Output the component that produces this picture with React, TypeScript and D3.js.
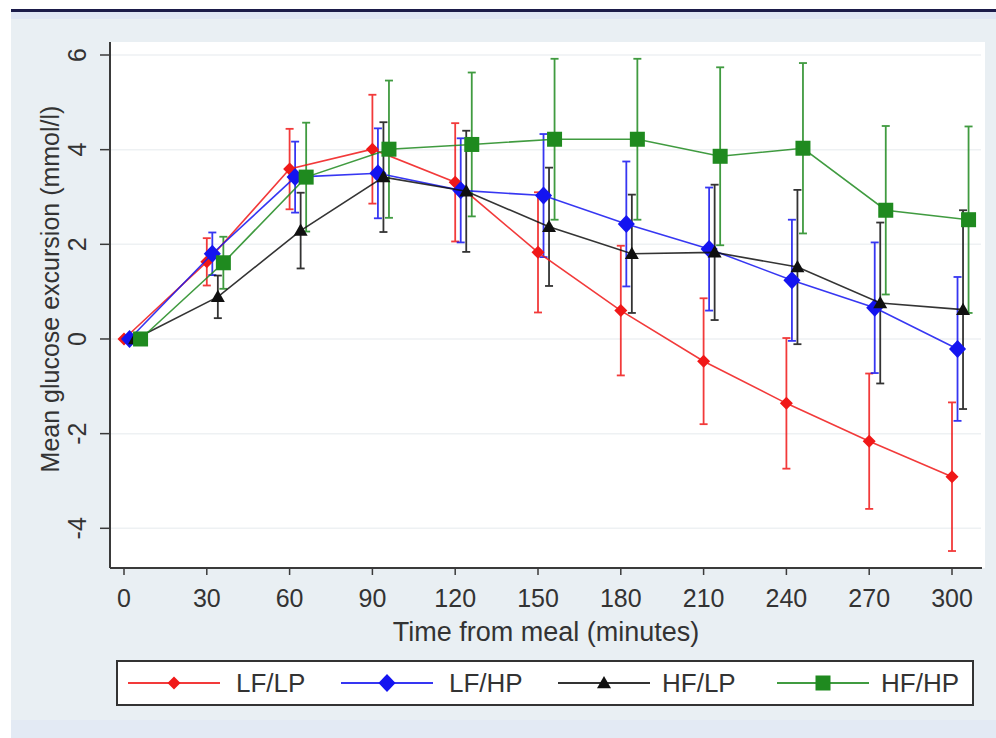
import React from "react";
import * as d3 from "d3";

const times = [0, 30, 60, 90, 120, 150, 180, 210, 240, 270, 300];
const seriesNames = ["LF/LP", "LF/HP", "HF/LP", "HF/HP"];
const lflpMean = [0, 1.63, 3.59, 4.01, 3.31, 1.83, 0.6, -0.47, -1.36, -2.16, -2.91];
const lflpErr = [0, 0.5, 0.85, 1.15, 1.25, 1.27, 1.37, 1.33, 1.38, 1.43, 1.57];
const lfhpMean = [0, 1.8, 3.42, 3.5, 3.14, 3.03, 2.43, 1.9, 1.24, 0.66, -0.21];
const lfhpErr = [0, 0.45, 0.75, 0.95, 1.1, 1.3, 1.32, 1.3, 1.28, 1.38, 1.52];
const hflpMean = [0, 0.89, 2.29, 3.42, 3.12, 2.37, 1.8, 1.83, 1.52, 0.76, 0.62];
const hflpErr = [0, 0.45, 0.8, 1.16, 1.28, 1.25, 1.25, 1.43, 1.63, 1.7, 2.1];
const hfhpMean = [0, 1.61, 3.42, 4.01, 4.11, 4.22, 4.22, 3.86, 4.03, 2.72, 2.52];
const hfhpErr = [0, 0.55, 1.15, 1.45, 1.52, 1.7, 1.7, 1.88, 1.8, 1.78, 1.97];
const timeOffsets = [0, 2, 4, 6];
const xTicks = [0, 30, 60, 90, 120, 150, 180, 210, 240, 270, 300];
const yTicks = [-4, -2, 0, 2, 4, 6];

const colors = ["#f01818", "#1414f0", "#101010", "#1f8a1f"];
const markers = ["diamondSmall", "diamond", "triangle", "square"];

const FONT = "'Liberation Sans', Arial, sans-serif";

function Marker({ kind, x, y, color }: { kind: string; x: number; y: number; color: string }) {
  if (kind === "diamondSmall") {
    const r = 6.5;
    return <path d={`M${x},${y - r}L${x + r},${y}L${x},${y + r}L${x - r},${y}Z`} fill={color} />;
  }
  if (kind === "diamond") {
    const r = 9;
    return <path d={`M${x},${y - r}L${x + r * 0.95},${y}L${x},${y + r}L${x - r * 0.95},${y}Z`} fill={color} />;
  }
  if (kind === "triangle") {
    const r = 7;
    return <path d={`M${x},${y - r}L${x + r},${y + r * 0.75}L${x - r},${y + r * 0.75}Z`} fill={color} />;
  }
  const s = 7.5;
  return <rect x={x - s} y={y - s} width={2 * s} height={2 * s} fill={color} />;
}

export default function App() {
  const W = 996;
  const H = 738;
  const x = d3.scaleLinear().domain([0, 300]).range([124, 952]);
  const y = d3.scaleLinear().domain([-4, 6]).range([528.3, 55]);
  const plotL = 110, plotR = 985, plotT = 42, plotB = 568;

  const means = [lflpMean, lfhpMean, hflpMean, hfhpMean];
  const errs = [lflpErr, lfhpErr, hflpErr, hfhpErr];

  const series = means.map((m, si) =>
    times.map((t, i) => ({ t: t + timeOffsets[si], v: m[i], e: errs[si][i] }))
  );

  const line = d3
    .line<{ t: number; v: number }>()
    .x((d) => x(d.t))
    .y((d) => y(d.v));

  const legendX = [128, 341, 558, 777];
  const legendLabelX = [236, 449, 662, 881];
  const legendY = 683;

  return (
    <svg
      width={W}
      height={H}
      style={{ position: "fixed", left: 0, top: 0, display: "block" }}
      fontFamily={FONT}
    >
      <rect x={0} y={0} width={W} height={H} fill="#ffffff" />
      <rect x={11} y={11} width={W - 11} height={H - 11} fill="#e9eff3" />
      <rect x={11} y={12} width={W - 11} height={7} fill="#dfe6f4" />
      <rect x={11} y={720} width={W - 11} height={18} fill="#e3eaf4" />
      <rect x={11} y={9} width={W - 11} height={3} fill="#1b1b4a" />

      {/* plot area */}
      <rect x={plotL} y={plotT} width={plotR - plotL} height={plotB - plotT} fill="#ffffff" />
      {yTicks.map((t) => (
        <line key={"g" + t} x1={plotL} x2={plotR - 4} y1={y(t)} y2={y(t)} stroke="#eef1f3" strokeWidth={1.5} />
      ))}

      {/* error bars */}
      {series.map((s, si) => (
        <g key={"e" + si} stroke={colors[si]} strokeWidth={1.8} opacity={0.85}>
          {s
            .filter((d) => d.e > 0)
            .map((d, i) => (
              <g key={i}>
                <line x1={x(d.t)} x2={x(d.t)} y1={y(d.v - d.e)} y2={y(d.v + d.e)} />
                <line x1={x(d.t) - 4} x2={x(d.t) + 4} y1={y(d.v - d.e)} y2={y(d.v - d.e)} />
                <line x1={x(d.t) - 4} x2={x(d.t) + 4} y1={y(d.v + d.e)} y2={y(d.v + d.e)} />
              </g>
            ))}
        </g>
      ))}

      {/* lines + markers */}
      {series.map((s, si) => (
        <g key={"l" + si}>
          <path d={line(s) || ""} fill="none" stroke={colors[si]} strokeWidth={1.6} opacity={0.85} />
          {s.map((d, i) => (
            <Marker key={i} kind={markers[si]} x={x(d.t)} y={y(d.v)} color={colors[si]} />
          ))}
        </g>
      ))}

      {/* axes */}
      <line x1={plotL} x2={plotL} y1={plotT} y2={plotB} stroke="#3a3a3a" strokeWidth={2} />
      <line x1={plotL} x2={982} y1={plotB} y2={plotB} stroke="#3a3a3a" strokeWidth={2} />
      {yTicks.map((t) => (
        <g key={"yt" + t}>
          <line x1={plotL - 10} x2={plotL} y1={y(t)} y2={y(t)} stroke="#3a3a3a" strokeWidth={1.5} />
          <text
            transform={`translate(86,${y(t)}) rotate(-90)`}
            textAnchor="middle"
            fontSize={25}
            fill="#333"
          >
            {t}
          </text>
        </g>
      ))}
      {xTicks.map((t) => (
        <g key={"xt" + t}>
          <line x1={x(t)} x2={x(t)} y1={plotB} y2={plotB + 7} stroke="#3a3a3a" strokeWidth={1.5} />
          <text x={x(t)} y={607} textAnchor="middle" fontSize={25} fill="#333">
            {t}
          </text>
        </g>
      ))}
      <text x={(124 + 952) / 2 + 8} y={641} textAnchor="middle" fontSize={27} fill="#333">
        Time from meal (minutes)
      </text>
      <text
        transform={`translate(59,${289}) rotate(-90)`}
        textAnchor="middle"
        fontSize={25}
        fill="#333"
      >
        Mean glucose excursion (mmol/l)
      </text>

      {/* legend */}
      <rect x={117} y={661} width={856} height={44} fill="#ffffff" stroke="#333" strokeWidth={2} />
      {seriesNames.map((n, si) => (
        <g key={"lg" + si}>
          <line
            x1={legendX[si]}
            x2={legendX[si] + 92}
            y1={legendY}
            y2={legendY}
            stroke={colors[si]}
            strokeWidth={2}
            opacity={0.85}
          />
          <Marker kind={markers[si]} x={legendX[si] + 46} y={legendY} color={colors[si]} />
          <text x={legendLabelX[si]} y={legendY + 9} fontSize={26} fill="#333">
            {n}
          </text>
        </g>
      ))}
    </svg>
  );
}
